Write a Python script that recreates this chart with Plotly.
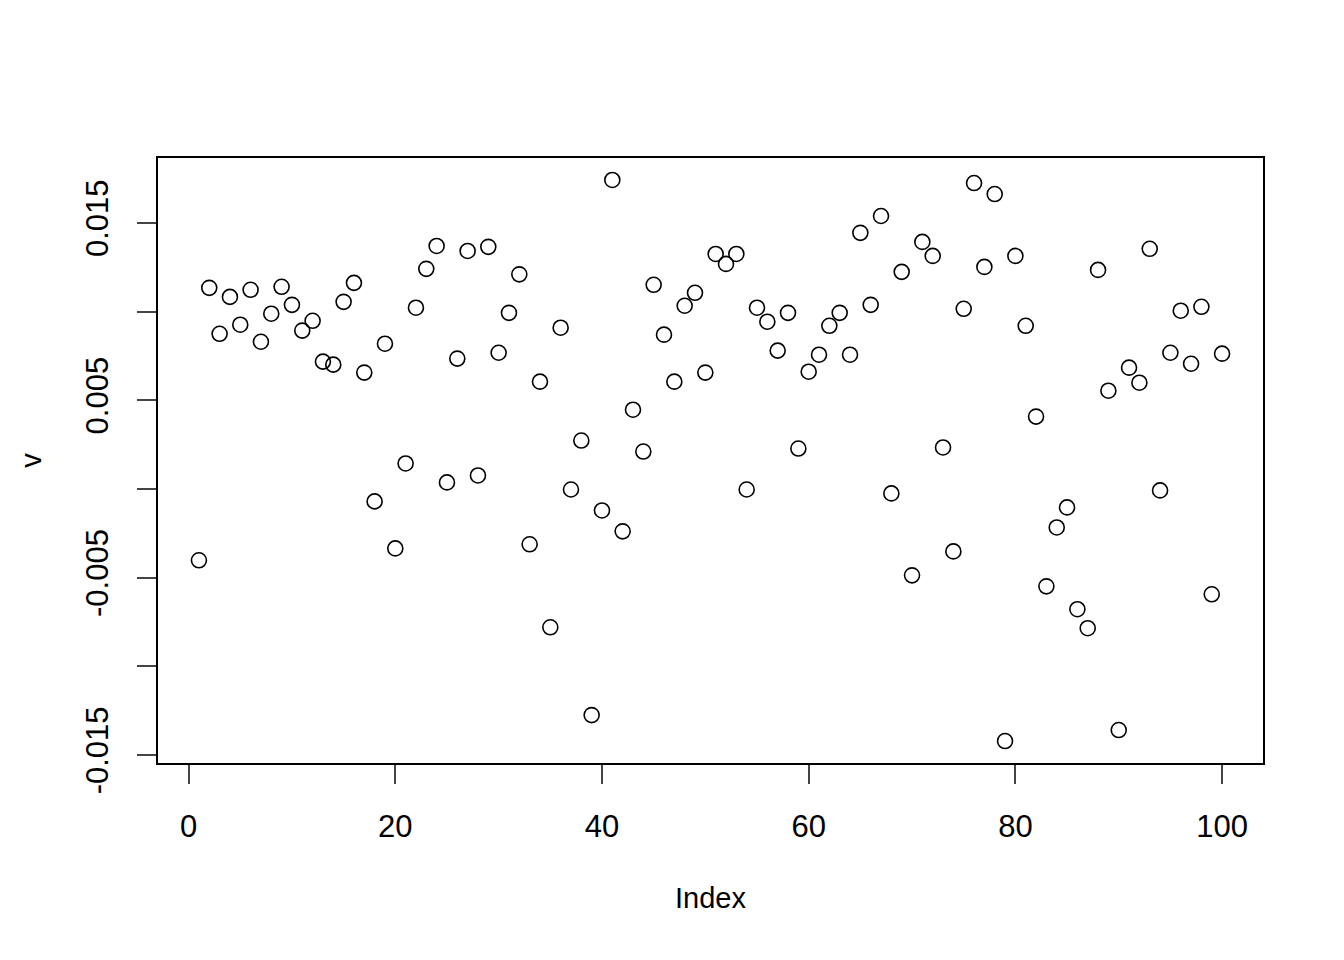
import plotly.graph_objects as go

index = list(range(1, 101))
v = [
    -0.00402, 0.01134, 0.00875, 0.01083, 0.00926, 0.01123, 0.00830, 0.00988, 0.01140, 0.01038,
    0.00893, 0.00948, 0.00718, 0.00701, 0.01055, 0.01162, 0.00656, -0.00070, 0.00819, -0.00335,
    0.00144, 0.01022, 0.01241, 0.01370, 0.00037, 0.00735, 0.01342, 0.00076, 0.01365, 0.00768,
    0.00993, 0.01210, -0.00312, 0.00605, -0.00780, 0.00909, -0.00003, 0.00273, -0.01275, -0.00121,
    0.01742, -0.00239, 0.00447, 0.00211, 0.01151, 0.00870, 0.00605, 0.01033, 0.01106, 0.00656,
    0.01325, 0.01269, 0.01325, -0.00003, 0.01022, 0.00943, 0.00780, 0.00993, 0.00228, 0.00661,
    0.00757, 0.00920, 0.00993, 0.00757, 0.01444, 0.01038, 0.01539, -0.00025, 0.01224, -0.00487,
    0.01393, 0.01314, 0.00234, -0.00352, 0.01016, 0.01725, 0.01252, 0.01663, -0.01421, 0.01314,
    0.00920, 0.00408, -0.00549, -0.00217, -0.00104, -0.00678, -0.00785, 0.01235, 0.00554, -0.01359,
    0.00684, 0.00599, 0.01354, -0.00008, 0.00768, 0.01005, 0.00706, 0.01027, -0.00594, 0.00763,
]

x_ticks = [0, 20, 40, 60, 80, 100]
y_ticks = [-0.015, -0.010, -0.005, 0.0, 0.005, 0.010, 0.015]
y_labels = ["-0.015", "", "-0.005", "", "0.005", "", "0.015"]

font = "Liberation Sans, Arial, sans-serif"

fig = go.Figure()
fig.add_trace(go.Scatter(
    x=index, y=v, mode="markers",
    marker=dict(symbol="circle-open", size=15, color="black", line=dict(width=1.6, color="black")),
    showlegend=False,
))

# the page adds ~8px body margin, so shift the plot box back
fig.update_layout(
    width=1344, height=960,
    margin=dict(l=150, r=89, t=150, b=205),
    plot_bgcolor="white", paper_bgcolor="white",
    font=dict(family=font, size=31, color="black"),
)
fig.update_xaxes(
    range=[-2.96, 103.96], tickvals=x_ticks, ticks="outside", ticklen=19, tickwidth=1.6,
    showline=True, mirror=True, linecolor="black", linewidth=1.6, showgrid=False, zeroline=False,
    title=dict(text="Index", standoff=45, font=dict(size=29)), ticklabelstandoff=16,
)
fig.update_yaxes(
    range=[-0.01545, 0.01866], tickvals=y_ticks, ticktext=y_labels, tickangle=-90,
    ticks="outside", ticklen=19, tickwidth=1.6,
    showline=True, mirror=True, linecolor="black", linewidth=1.6, showgrid=False, zeroline=False,
    title=dict(text="v", standoff=30, font=dict(size=29)), ticklabelstandoff=17,
)

fig.write_html("out.html")
